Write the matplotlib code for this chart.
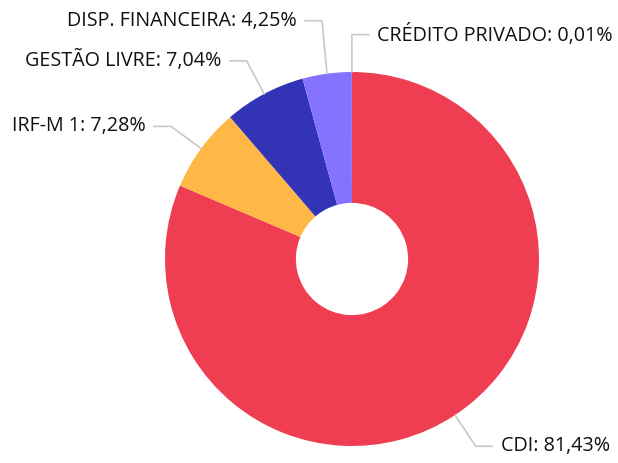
import numpy as np
import matplotlib.pyplot as plt

plt.rcParams['font.family'] = ['Open Sans', 'DejaVu Sans']

labels = ['CDI', 'IRF-M 1', 'GESTÃO LIVRE', 'DISP. FINANCEIRA', 'CRÉDITO PRIVADO']
values = [81.43, 7.28, 7.04, 4.25, 0.01]
colors = ['#EF3D51', '#FFB845', '#3333B5', '#8572FE', '#2EC4B6']
# small vertical nudges so the top labels don't collide
label_dy = [0, 0, 0, 0.085, 0]

fig = plt.figure(figsize=(6.18, 4.63), dpi=100)
ax = fig.add_axes([0, 0, 1, 1])
ax.axis('off')

wedges, _ = ax.pie(values, colors=colors, startangle=90, counterclock=False,
                   radius=1.0, wedgeprops=dict(width=0.7, linewidth=0))

for w, lab, val, dy in zip(wedges, labels, values, label_dy):
    ang = np.deg2rad((w.theta1 + w.theta2) / 2)
    x0, y0 = np.cos(ang), np.sin(ang)
    x1, y1 = 1.2 * x0, 1.2 * y0 + dy
    side = 1 if x0 > -0.01 else -1
    x2 = x1 + side * 0.09
    ax.plot([x0, x1, x2], [y0, y1, y1], color='#C8C8C8', lw=1.2,
            solid_joinstyle='miter', zorder=1)
    txt = '%s: %s%%' % (lab, ('%.2f' % val).replace('.', ','))
    ax.text(x2 + side * 0.045, y1, txt, ha='left' if side > 0 else 'right',
            va='center', fontsize=14.2, color='#111111')

ax.set_xlim(-352 / 187, (618 - 352) / 187)
ax.set_ylim(-(463 - 259) / 187, 259 / 187)
ax.set_aspect('equal')

fig.savefig('out.png', dpi=100)
